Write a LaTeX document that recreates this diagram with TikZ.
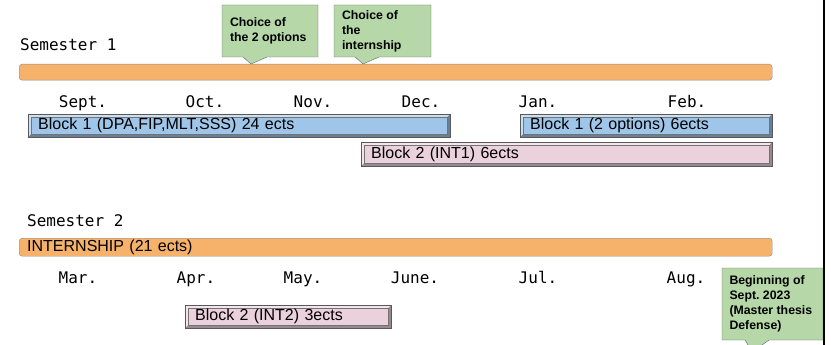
\documentclass[tikz,border=0pt]{standalone}
\usepackage{fontspec}
\setmainfont{Liberation Sans}
\setmonofont{DejaVu Sans Mono}
\usetikzlibrary{shapes.callouts}

\definecolor{barorange}{HTML}{F6B26B}
\definecolor{blockblue}{HTML}{9FC5E8}
\definecolor{blockpink}{HTML}{EAD1DC}
\definecolor{notegreen}{HTML}{B6D7A8}

\frenchspacing

\begin{document}
\begin{tikzpicture}[x=1pt,y=-1pt,
  month/.style={font=\ttfamily\fontsize{16}{18}\selectfont,inner sep=0pt,anchor=base},
  semester/.style={month,anchor=base west},
  bar/.style={draw=black!45,fill=barorange,rounded corners=3pt,anchor=north west,
    minimum width=753pt,inner xsep=8pt,inner ysep=0pt,text width=737pt,align=left,
    font=\fontsize{16}{18}\selectfont},
  bevel/.style={path picture={
    \fill[white,opacity=.45] (path picture bounding box.north west)
      -- (path picture bounding box.north east)
      -- ([xshift=-3pt,yshift=-3pt]path picture bounding box.north east)
      -- ([xshift=3pt,yshift=-3pt]path picture bounding box.north west)
      -- ([xshift=3pt,yshift=3pt]path picture bounding box.south west)
      -- (path picture bounding box.south west) -- cycle;
    \fill[black,opacity=.35] (path picture bounding box.south east)
      -- (path picture bounding box.south west)
      -- ([xshift=3pt,yshift=3pt]path picture bounding box.south west)
      -- ([xshift=-3pt,yshift=3pt]path picture bounding box.south east)
      -- ([xshift=-3pt,yshift=-3pt]path picture bounding box.north east)
      -- (path picture bounding box.north east) -- cycle;
    \draw[black!55,line width=.5pt]
      ([xshift=3pt,yshift=-3pt]path picture bounding box.north west) rectangle
      ([xshift=-3pt,yshift=3pt]path picture bounding box.south east);
  }},
  block/.style={draw=black!65,fill=#1,bevel,anchor=north west,minimum height=23pt,
    inner xsep=10pt,inner ysep=0pt,align=left,font=\fontsize{16}{18}\selectfont},
  note/.style={rectangle callout,draw=black!60,fill=notegreen,callout pointer width=24pt,
    inner xsep=8pt,align=flush left,font=\bfseries\fontsize{12.3}{15}\selectfont}
]
  \useasboundingbox (0,0) rectangle (831,345);

  %% first semester
  \node[semester] (semone) at (20,51) {Semester 1};
  \node[bar,minimum height=16pt] (barone) at (19,64) {};

  \node[note,minimum width=96pt,minimum height=52pt,text width=80pt,
    callout absolute pointer={(barone.north west -| 251,0)}] (optchoice) at (270,31)
    {Choice of\\the 2 options};
  \node[note,minimum width=97pt,minimum height=52pt,text width=81pt,
    callout absolute pointer={(barone.north west -| 363,0)}] (intchoice) at (382.5,31)
    {Choice of\\the\\internship};

  %% months
  \node[month] (sep) at (83,107) {Sept.};
  \node[month] (oct) at (205,107) {Oct.};
  \node[month] (nov) at (313,107) {Nov.};
  \node[month] (dec) at (421,107) {Dec.};
  \node[month] (jan) at (538,107) {Jan.};
  \node[month] (feb) at (687,107) {Feb.};

  %% blocks
  \node[block=blockblue,minimum width=422pt,text width=402pt] (blkone) at (28,114)
    {Block 1 (DPA,FIP,MLT,SSS) 24 ects};
  \node[block=blockblue,minimum width=252pt,text width=232pt] (blkopt) at (520,114)
    {Block 1 (2 options) 6ects};
  \node[block=blockpink,minimum width=411pt,minimum height=24pt,text width=391pt] (blkint) at (361,142)
    {Block 2 (INT1) 6ects};

  %% second semester
  \node[semester] (semtwo) at (27,226) {Semester 2};
  \node[bar,minimum height=18pt] (bartwo) at (19,238) {INTERNSHIP (21 ects)};

  %% months
  \node[month] (mar) at (78,283) {Mar.};
  \node[month] (apr) at (196,283) {Apr.};
  \node[month] (may) at (303,283) {May.};
  \node[month] (jun) at (415,283) {June.};
  \node[month] (jul) at (538,283) {Jul.};
  \node[month] (aug) at (686,283) {Aug.};

  \node[block=blockpink,minimum width=206pt,text width=186pt] (blkinttwo) at (185,305)
    {Block 2 (INT2) 3ects};

  \node[note,minimum width=101pt,minimum height=72pt,text width=86pt,inner xsep=7.5pt,
    callout absolute pointer={(752,352)}] (defense) at (772.5,304)
    {Beginning of\\Sept. 2023\\(Master thesis\\Defense)};

  %% right margin rule
  \coordinate (ruletop) at (824,0);
  \coordinate (rulebot) at (824,345);
  \draw[line width=2.5pt] (ruletop) -- (rulebot);
\end{tikzpicture}
\end{document}
